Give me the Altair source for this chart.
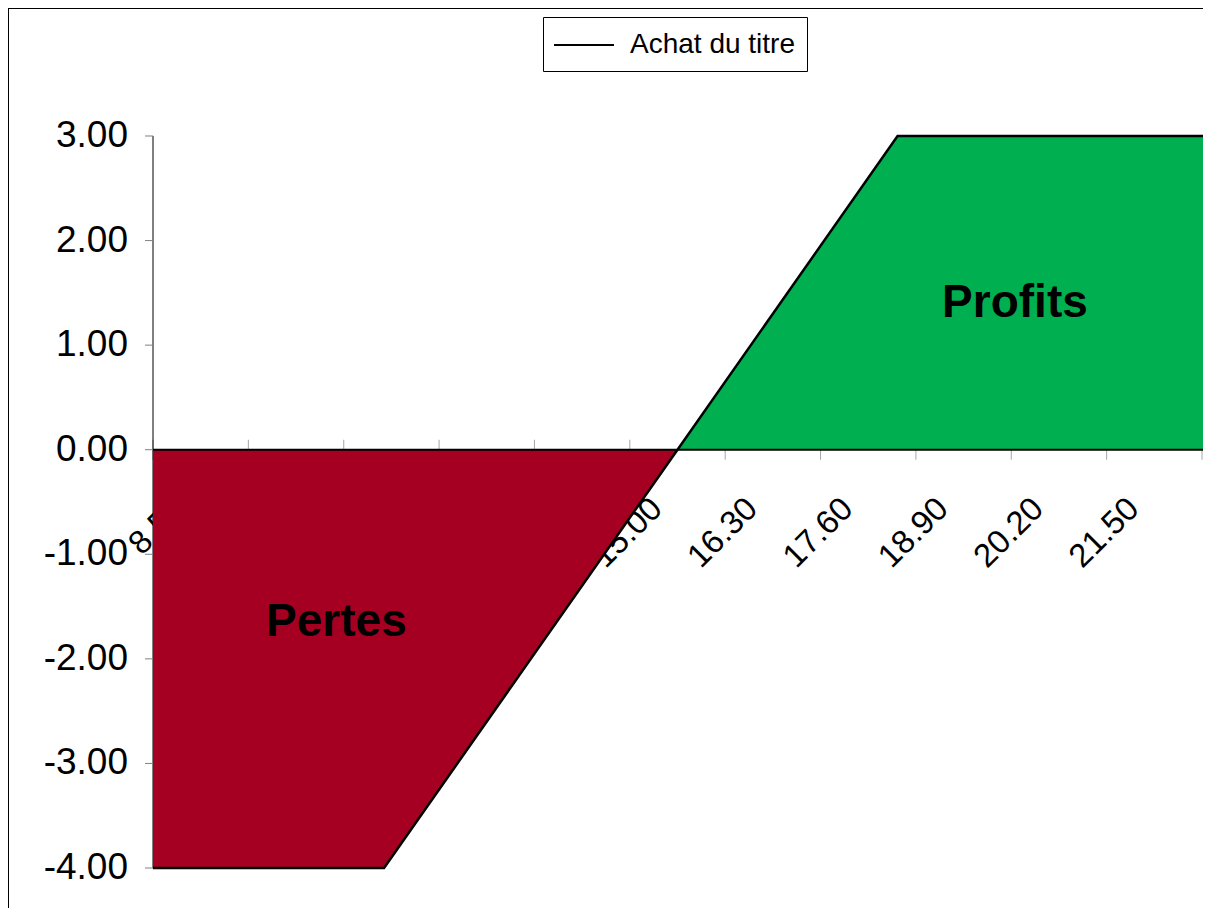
import altair as alt
import pandas as pd

# ---- data ----
prices = [8.50, 11.65, 15.65, 18.65, 23.00]
payoff = [-4.00, -4.00, 0.00, 3.00, 3.00]
x_ticks = [8.50, 9.80, 11.10, 12.40, 13.70, 15.00, 16.30, 17.60, 18.90, 20.20, 21.50, 22.80]
x_tick_labels = ["8.50", "9.80", "11.10", "12.40", "13.70", "15.00", "16.30", "17.60",
                 "18.90", "20.20", "21.50", ""]
y_ticks = [-4, -3, -2, -1, 0, 1, 2, 3]
y_tick_labels = ["-4.00", "-3.00", "-2.00", "-1.00", "0.00", "1.00", "2.00", "3.00"]
series_name = "Achat du titre"
zone_labels = ["Pertes", "Profits"]
zone_x = [11.0, 20.25]
zone_y = [-1.65, 1.40]

PADL = 145
W, H = 1050, 900
PX_PER_UNIT = 73.357
FONT = "Liberation Sans"

df = pd.DataFrame({"prix": prices, "gain": payoff, "zero": 0.0, "serie": series_name})
loss = df[df["prix"] <= 15.65]
gain = df[df["prix"] >= 15.65]
xt_df = pd.DataFrame({"prix": x_ticks, "gain": 0.0, "lab": x_tick_labels})
yt_df = pd.DataFrame({"prix": prices[0], "gain": y_ticks, "lab": y_tick_labels})
zones = pd.DataFrame({"label": zone_labels, "prix": zone_x, "gain": zone_y})
yline = pd.DataFrame({"prix": [prices[0]], "lo": [min(y_ticks)], "hi": [max(y_ticks)]})
xline = pd.DataFrame({"prix": [prices[0]], "prix2": [prices[-1]], "gain": [0.0]})

xs = alt.Scale(domain=[8.5, 8.5 + W / PX_PER_UNIT], nice=False, zero=False)
ys = alt.Scale(domain=[-4.3825, 4.224], nice=False, zero=False)
X = lambda f="prix": alt.X(f"{f}:Q", scale=xs, axis=None)
Y = lambda f="gain": alt.Y(f"{f}:Q", scale=ys, axis=None)

frame_left = alt.Chart(pd.DataFrame({"a": [0]})).mark_rule(color="black", strokeWidth=1).encode(
    x=alt.value(-PADL + 0.5), y=alt.value(0), y2=alt.value(H))
frame_top = alt.Chart(pd.DataFrame({"a": [0]})).mark_rule(color="black", strokeWidth=1).encode(
    x=alt.value(-PADL), x2=alt.value(W), y=alt.value(0.5))

# x axis: crossing ticks and rotated labels (drawn under the areas)
x_tick_marks = alt.Chart(xt_df).mark_tick(color="#808080", size=20, thickness=1, orient="vertical").encode(
    x=X(), y=Y())
x_labels = alt.Chart(xt_df).mark_text(font=FONT, fontSize=33, angle=315, align="right",
                                      baseline="middle", color="black",
                                      xOffset=27, yOffset=54).encode(
    x=X(), y=Y(), text="lab:N")

# y axis: line, outside ticks, labels
y_rule = alt.Chart(yline).mark_rule(color="black", strokeWidth=1).encode(
    x=X(), y=Y("lo"), y2="hi:Q")
y_tick_marks = alt.Chart(yt_df).mark_rule(color="#808080", strokeWidth=1, x2Offset=-8).encode(
    x=X(), x2="prix:Q", y=Y())
y_labels = alt.Chart(yt_df).mark_text(font=FONT, fontSize=37, align="right", baseline="middle",
                                      color="black", xOffset=-25).encode(
    x=X(), y=Y(), text="lab:N")

red = alt.Chart(loss).mark_area(color="#A50021", clip=True).encode(x=X(), y=Y(), y2="zero:Q")
green = alt.Chart(gain).mark_area(color="#00B050", clip=True).encode(x=X(), y=Y(), y2="zero:Q")

x_rule = alt.Chart(xline).mark_rule(color="black", strokeWidth=2, clip=True).encode(
    x=X(), x2="prix2:Q", y=Y())

line = alt.Chart(df).mark_line(strokeWidth=2.5, clip=True).encode(
    x=X(), y=Y(),
    color=alt.Color("serie:N", scale=alt.Scale(range=["black"]),
                    legend=alt.Legend(orient="none", legendX=535 - PADL, legendY=9, title=None,
                                      symbolType="M-2,0H2", symbolSize=900, symbolStrokeWidth=2,
                                      symbolOffset=13, labelOffset=30,
                                      labelFontSize=28, labelFont=FONT, labelColor="black",
                                      labelLimit=0, strokeColor="black", padding=12,
                                      fillColor="white", cornerRadius=0)),
)

texts = alt.Chart(zones).mark_text(font=FONT, fontSize=46, fontWeight="bold", color="black").encode(
    x=X(), y=Y(), text="label:N")

chart = alt.layer(
    frame_left, frame_top, x_tick_marks, x_labels, y_rule, y_tick_marks, y_labels,
    red, green, x_rule, line, texts
).properties(
    width=W, height=H, autosize=alt.AutoSizeParams(type="none"),
    padding={"left": PADL, "top": 0, "right": 0, "bottom": 0}, background="white"
).configure_view(stroke=None)

chart.save("out.html", embed_options={"renderer": "svg", "actions": False})
